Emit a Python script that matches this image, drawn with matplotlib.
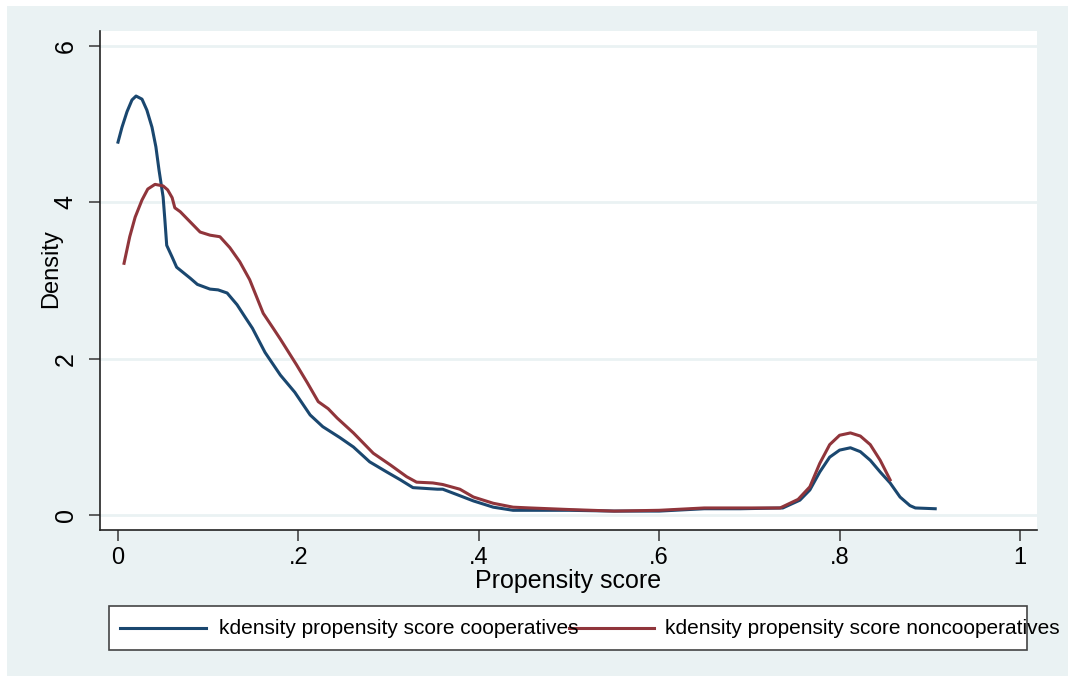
"""kernel density of propensity scores, cooperatives vs noncooperatives
"""

import matplotlib
matplotlib.use('Agg')
import matplotlib.pyplot as plt
from matplotlib.patches import Rectangle
from matplotlib.lines import Line2D

plt.rcParams['font.family'] = ['Liberation Sans', 'DejaVu Sans']

# values
coop_x = [0.000, 0.0044, 0.010, 0.0155, 0.020, 0.0266, 0.032, 0.0377, 0.042, 0.0455,
          0.050, 0.052, 0.054, 0.060, 0.065, 0.080, 0.088, 0.102, 0.111, 0.121,
          0.132, 0.141, 0.149, 0.163, 0.180, 0.196, 0.213, 0.227, 0.246, 0.261,
          0.279, 0.298, 0.313, 0.327, 0.354, 0.360, 0.376, 0.394, 0.416, 0.438,
          0.457, 0.500, 0.550, 0.600, 0.650, 0.690, 0.737, 0.756, 0.767, 0.778,
          0.789, 0.800, 0.812, 0.823, 0.834, 0.845, 0.856, 0.867, 0.878, 0.884,
          0.906]
coop_y = [4.77, 4.96, 5.16, 5.31, 5.36, 5.32, 5.18, 4.96, 4.71, 4.41,
          4.07, 3.77, 3.45, 3.30, 3.17, 3.03, 2.95, 2.89, 2.88, 2.84,
          2.69, 2.53, 2.39, 2.08, 1.79, 1.57, 1.28, 1.13, 0.99, 0.87,
          0.68, 0.55, 0.45, 0.35, 0.33, 0.33, 0.26, 0.18, 0.10, 0.06,
          0.06, 0.06, 0.05, 0.05, 0.08, 0.08, 0.09, 0.19, 0.32, 0.55,
          0.74, 0.83, 0.86, 0.81, 0.70, 0.55, 0.41, 0.23, 0.12, 0.09,
          0.08]

noncoop_x = [0.0067, 0.013, 0.019, 0.0266, 0.033, 0.041, 0.050, 0.055, 0.060, 0.063,
             0.069, 0.080, 0.091, 0.102, 0.113, 0.124, 0.135, 0.146, 0.161, 0.172,
             0.180, 0.198, 0.210, 0.222, 0.233, 0.243, 0.261, 0.283, 0.302, 0.320,
             0.331, 0.349, 0.360, 0.379, 0.394, 0.416, 0.438, 0.457, 0.500, 0.550,
             0.600, 0.650, 0.690, 0.734, 0.754, 0.767, 0.778, 0.789, 0.800, 0.812,
             0.823, 0.834, 0.845, 0.856]
noncoop_y = [3.22, 3.56, 3.81, 4.03, 4.17, 4.23, 4.21, 4.16, 4.06, 3.93,
             3.88, 3.75, 3.62, 3.58, 3.56, 3.42, 3.24, 3.01, 2.58, 2.39,
             2.25, 1.92, 1.69, 1.45, 1.36, 1.24, 1.05, 0.79, 0.64, 0.49,
             0.42, 0.41, 0.39, 0.33, 0.23, 0.15, 0.10, 0.09, 0.07, 0.05,
             0.06, 0.09, 0.09, 0.09, 0.20, 0.36, 0.66, 0.90, 1.02, 1.05,
             1.01, 0.90, 0.70, 0.45]

x_ticks = [0, 0.2, 0.4, 0.6, 0.8, 1]
x_ticklabels = ['0', '.2', '.4', '.6', '.8', '1']
y_ticks = [0, 2, 4, 6]
y_ticklabels = ['0', '2', '4', '6']

labels = ['kdensity propensity score cooperatives',
          'kdensity propensity score noncooperatives']

BLUE = '#1a476f'
RED = '#90353b'
BG = '#eaf2f3'

W, H = 1068, 676


def fx(px):
    return px / W


def fy(py):
    return 1 - py / H


fig = plt.figure(figsize=(W / 100, H / 100), dpi=100, facecolor='white')
fig.patches.append(Rectangle((fx(7), 0), 1 - fx(7), fy(6), transform=fig.transFigure,
                             facecolor=BG, edgecolor='none', zorder=-10))

ax = fig.add_axes([fx(100), fy(530), fx(1037) - fx(100), fy(31) - fy(530)])
ax.set_facecolor('white')

ax.plot(coop_x, coop_y, color=BLUE, lw=2.2, solid_joinstyle='round')
ax.plot(noncoop_x, noncoop_y, color=RED, lw=2.2, solid_joinstyle='round')

ax.set_xlim(-0.01996, 1.01885)
ax.set_ylim(-0.192, 6.192)

ax.set_xticks(x_ticks)
ax.set_xticklabels(x_ticklabels, fontsize=17)
ax.set_yticks(y_ticks)
ax.set_yticklabels(y_ticklabels, fontsize=18, rotation=90, va='center')
ax.tick_params(axis='both', length=8, width=1.2, color='#444444')
ax.tick_params(axis='x', pad=4)
ax.tick_params(axis='y', pad=8)

ax.yaxis.grid(True, color=BG, lw=2)
ax.set_axisbelow(True)

for side in ['top', 'right']:
    ax.spines[side].set_visible(False)
for side in ['left', 'bottom']:
    ax.spines[side].set_color('#222222')
    ax.spines[side].set_linewidth(1.2)

ax.set_xlabel('Propensity score', fontsize=18, labelpad=0)
ax.set_ylabel('Density', fontsize=17)
ax.yaxis.set_label_coords(-0.0406, 0.523)

# legend drawn the way Stata lays it out (text running past the box)
fig.patches.append(Rectangle((fx(109), fy(650)), fx(1027) - fx(109), fy(606) - fy(650),
                             transform=fig.transFigure, facecolor='white',
                             edgecolor='#444444', lw=1.2, zorder=1))
leg_y = fy(628)
for (x0, x1, tx), color, label in zip([(120, 206, 219), (569, 654, 665)], [BLUE, RED], labels):
    fig.lines.append(Line2D([fx(x0), fx(x1)], [leg_y, leg_y], transform=fig.transFigure,
                            color=color, lw=2.2, zorder=2))
    fig.text(fx(tx), leg_y, label, fontsize=15, va='center', ha='left', zorder=3)

fig.savefig('out.png', dpi=100, facecolor=fig.get_facecolor())
